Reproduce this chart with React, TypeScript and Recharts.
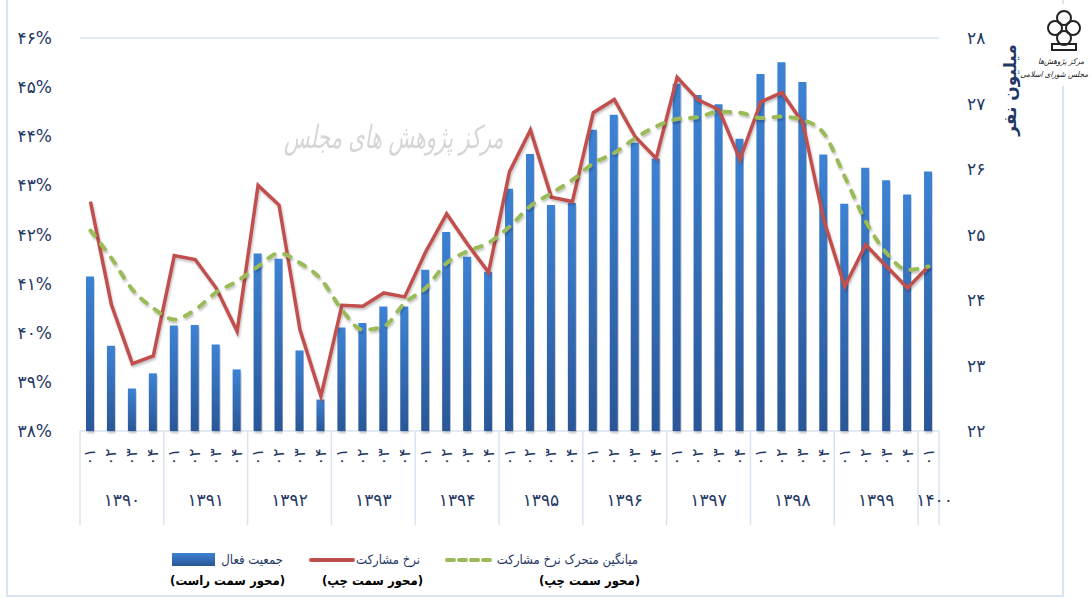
import React from "react";
import { Bar, ComposedChart, CartesianGrid, Line, XAxis, YAxis } from "recharts";

const years = ["1390", "1391", "1392", "1393", "1394", "1395", "1396", "1397", "1398", "1399", "1400"];
const quarterLabels = ["۰۱", "۰۲", "۰۳", "۰۴"];

// جمعیت فعال (میلیون نفر) - right axis
const activePop = [
  24.36, 23.3, 22.65, 22.88, 23.61, 23.62, 23.32, 22.94, 24.71, 24.63, 23.23, 22.48,
  23.58, 23.65, 23.9, 23.9, 24.46, 25.04, 24.66, 24.43, 25.7, 26.23, 25.45, 25.48,
  26.6, 26.83, 26.4, 26.16, 27.3, 27.13, 26.99, 26.46, 27.45, 27.63, 27.33, 26.22,
  25.47, 26.02, 25.83, 25.61, 25.96,
];

// نرخ مشارکت (%) - left axis
const rate = [
  42.67, 40.57, 39.37, 39.53, 41.57, 41.49, 40.91, 40.03, 43.0, 42.6, 40.06, 38.71,
  40.56, 40.54, 40.81, 40.73, 41.65, 42.42, 41.8, 41.23, 43.28, 44.13, 42.76, 42.67,
  44.48, 44.75, 43.99, 43.55, 45.2, 44.74, 44.54, 43.53, 44.7, 44.89, 44.27, 42.3,
  40.94, 41.79, 41.35, 40.91, 41.35,
];

// میانگین متحرک نرخ مشارکت (%) - left axis
const movingAvg = [
  42.08, 41.52, 40.88, 40.5, 40.27, 40.47, 40.82, 41.05, 41.35, 41.62, 41.42, 41.09,
  40.47, 40.06, 40.13, 40.61, 40.91, 41.42, 41.66, 41.83, 42.16, 42.58, 42.84, 43.11,
  43.45, 43.66, 43.96, 44.2, 44.35, 44.39, 44.5, 44.48, 44.37, 44.4, 44.33, 44.06,
  43.18, 42.27, 41.62, 41.28, 41.35,
];

const leftTicks = [38, 39, 40, 41, 42, 43, 44, 45, 46];
const rightTicks = [22, 23, 24, 25, 26, 27, 28];

const FONT = "'DejaVu Sans', sans-serif";
const FONT_NARROW = "'DejaVu Sans Condensed', 'DejaVu Sans', sans-serif";
const NAVY = "#1f3864";
const GRID = "#d9e4f2";

const fa = (s: string | number) => String(s).replace(/\d/g, (d) => "۰۱۲۳۴۵۶۷۸۹"[Number(d)]);

const data = activePop.map((v, i) => {
  const year = years[Math.floor(i / 4)];
  const q = (i % 4) + 1;
  return { key: `${year}-${q}`, pop: v, rate: rate[i], avg: movingAvg[i] };
});

const QuarterTick = (props: any) => {
  const { x, y, payload, index } = props;
  const [year, q] = String(payload.value).split("-");
  const half = payload.offset || 10.48;
  const isLast = index === data.length - 1;
  const yearSize = year === "1400" ? 1 : 4;
  return (
    <g>
      <text
        x={0}
        y={0}
        transform={`translate(${x + 5},${y + 26}) rotate(-90)`}
        textAnchor="middle"
        fontSize={16}
        fill={NAVY}
        fontFamily={FONT}
      >
        {quarterLabels[Number(q) - 1]}
      </text>
      {q === "1" && <line x1={x - half} x2={x - half} y1={y} y2={y + 94} stroke={GRID} strokeWidth={1.5} />}
      {isLast && <line x1={x + half} x2={x + half} y1={y} y2={y + 94} stroke={GRID} strokeWidth={1.5} />}
      {((yearSize === 4 && q === "2") || yearSize === 1) && (
        <text
          x={yearSize === 4 ? x + half : x + 6}
          y={y + 75}
          textAnchor="middle"
          fontSize={17}
          fill={NAVY}
          fontFamily={FONT}
        >
          {fa(year)}
        </text>
      )}
    </g>
  );
};

const Logo = () => (
  <svg width={76} height={82} style={{ position: "absolute", left: 1016, top: 4 }}>
    <rect x={10} y={0} width={66} height={82} fill="#fff" />
    <g fill="none" stroke="#222" strokeWidth={2}>
      <circle cx={48} cy={14} r={7} />
      <circle cx={39} cy={24} r={7} />
      <circle cx={57} cy={24} r={7} />
      <circle cx={48} cy={34} r={7} />
      <rect x={36} y={40} width={24} height={6} />
    </g>
    <text x={68} y={60} textAnchor="end" fontSize={8} fontFamily={FONT_NARROW} fontStyle="italic" fill="#222">
      مرکز پژوهش‌ها
    </text>
    <text x={72} y={73} textAnchor="end" fontSize={8} fontFamily={FONT_NARROW} fontStyle="italic" fill="#222">
      مجلس شورای اسلامی
    </text>
  </svg>
);

const legendText: React.CSSProperties = {
  position: "absolute",
  fontFamily: FONT_NARROW,
  fontSize: 13,
  color: NAVY,
  whiteSpace: "nowrap",
  direction: "rtl",
};
const legendNote: React.CSSProperties = {
  ...legendText,
  fontSize: 13,
  fontWeight: "bold",
  color: "#000",
};

export default function App() {
  return (
    <div style={{ position: "absolute", left: 0, top: 0, width: 1092, height: 601, background: "#fff", overflow: "hidden" }}>
      <div
        style={{
          position: "absolute",
          left: 6,
          top: -4,
          width: 1058,
          height: 601,
          border: `2px solid ${GRID}`,
          boxSizing: "border-box",
        }}
      />
      <div
        style={{
          position: "absolute",
          left: 284,
          top: 118,
          fontFamily: FONT_NARROW,
          fontStyle: "italic",
          fontSize: 32,
          color: "#d6d6d6",
          direction: "rtl",
          whiteSpace: "nowrap",
          transform: "scaleX(0.72)",
          transformOrigin: "left top",
        }}
      >
        مرکز پژوهش های مجلس
      </div>
      <div style={{ position: "absolute", left: 0, top: 0 }}>
        <ComposedChart
          width={1092}
          height={601}
          data={data}
          margin={{ top: 38, right: 73, bottom: 70, left: 0 }}
          barSize={8}
        >
          <defs>
            <linearGradient id="barGrad" x1="0" y1="0" x2="0" y2="1">
              <stop offset="0%" stopColor="#3d82d4" />
              <stop offset="100%" stopColor="#2a5797" />
            </linearGradient>
            <filter id="shadow" x="-5%" y="-5%" width="110%" height="120%">
              <feDropShadow dx={1} dy={2} stdDeviation={1.2} floodColor="#000" floodOpacity={0.25} />
            </filter>
          </defs>
          <CartesianGrid vertical={false} stroke={GRID} strokeWidth={1.5} />
          <XAxis
            dataKey="key"
            interval={0}
            axisLine={false}
            tickLine={false}
            tickSize={0}
            tickMargin={0}
            height={100}
            tick={<QuarterTick />}
          />
          <YAxis
            yAxisId="left"
            orientation="left"
            domain={[38, 46]}
            ticks={leftTicks}
            width={80}
            axisLine={false}
            tickLine={false}
            tickMargin={22}
            tickFormatter={(v) => fa(v) + "%"}
            tick={{ fontSize: 17, fill: NAVY, fontFamily: FONT }}
          />
          <YAxis
            yAxisId="right"
            orientation="right"
            domain={[22, 28]}
            ticks={rightTicks}
            width={80}
            axisLine={false}
            tickLine={false}
            tickMargin={22}
            tickFormatter={(v) => fa(v)}
            tick={{ fontSize: 17, fill: NAVY, fontFamily: FONT, textAnchor: "start" }}
          />
          <Bar yAxisId="right" dataKey="pop" fill="url(#barGrad)" isAnimationActive={false} filter="url(#shadow)" />
          <Line
            yAxisId="left"
            type="linear"
            dataKey="rate"
            stroke="#c0504d"
            strokeWidth={3.5}
            dot={false}
            isAnimationActive={false}
            filter="url(#shadow)"
          />
          <Line
            yAxisId="left"
            type="monotone"
            dataKey="avg"
            stroke="#9bbb59"
            strokeWidth={4}
            strokeDasharray="7 10"
            strokeLinecap="round"
            dot={false}
            isAnimationActive={false}
            filter="url(#shadow)"
          />
        </ComposedChart>
      </div>
      <div
        style={{
          position: "absolute",
          left: 1010,
          top: 90,
          transform: "translate(-50%, -50%) rotate(-90deg)",
          fontFamily: FONT,
          fontWeight: "bold",
          fontSize: 17,
          color: NAVY,
          whiteSpace: "nowrap",
          direction: "rtl",
        }}
      >
        میلیون نفر
      </div>
      <Logo />
      {/* legend */}
      <div
        style={{
          position: "absolute",
          left: 172,
          top: 553,
          width: 43,
          height: 13,
          background: "linear-gradient(#3d82d4, #2a5797)",
        }}
      />
      <div style={{ ...legendText, right: 1092 - 283, top: 552 }}>جمعیت فعال</div>
      <div style={{ ...legendNote, right: 1092 - 285, top: 573 }}>(محور سمت راست)</div>
      <div style={{ position: "absolute", left: 309, top: 558, width: 46, height: 4, borderRadius: 2, background: "#c0504d" }} />
      <div style={{ ...legendText, right: 1092 - 420, top: 552 }}>نرخ مشارکت</div>
      <div style={{ ...legendNote, right: 1092 - 423, top: 573 }}>(محور سمت چپ)</div>
      <svg width={50} height={10} style={{ position: "absolute", left: 444, top: 555 }}>
        <line x1={3} x2={47} y1={5} y2={5} stroke="#9bbb59" strokeWidth={4} strokeDasharray="7 5" strokeLinecap="round" />
      </svg>
      <div style={{ ...legendText, right: 1092 - 638, top: 552 }}>میانگین متحرک نرخ مشارکت</div>
      <div style={{ ...legendNote, right: 1092 - 640, top: 573 }}>(محور سمت چپ)</div>
    </div>
  );
}
